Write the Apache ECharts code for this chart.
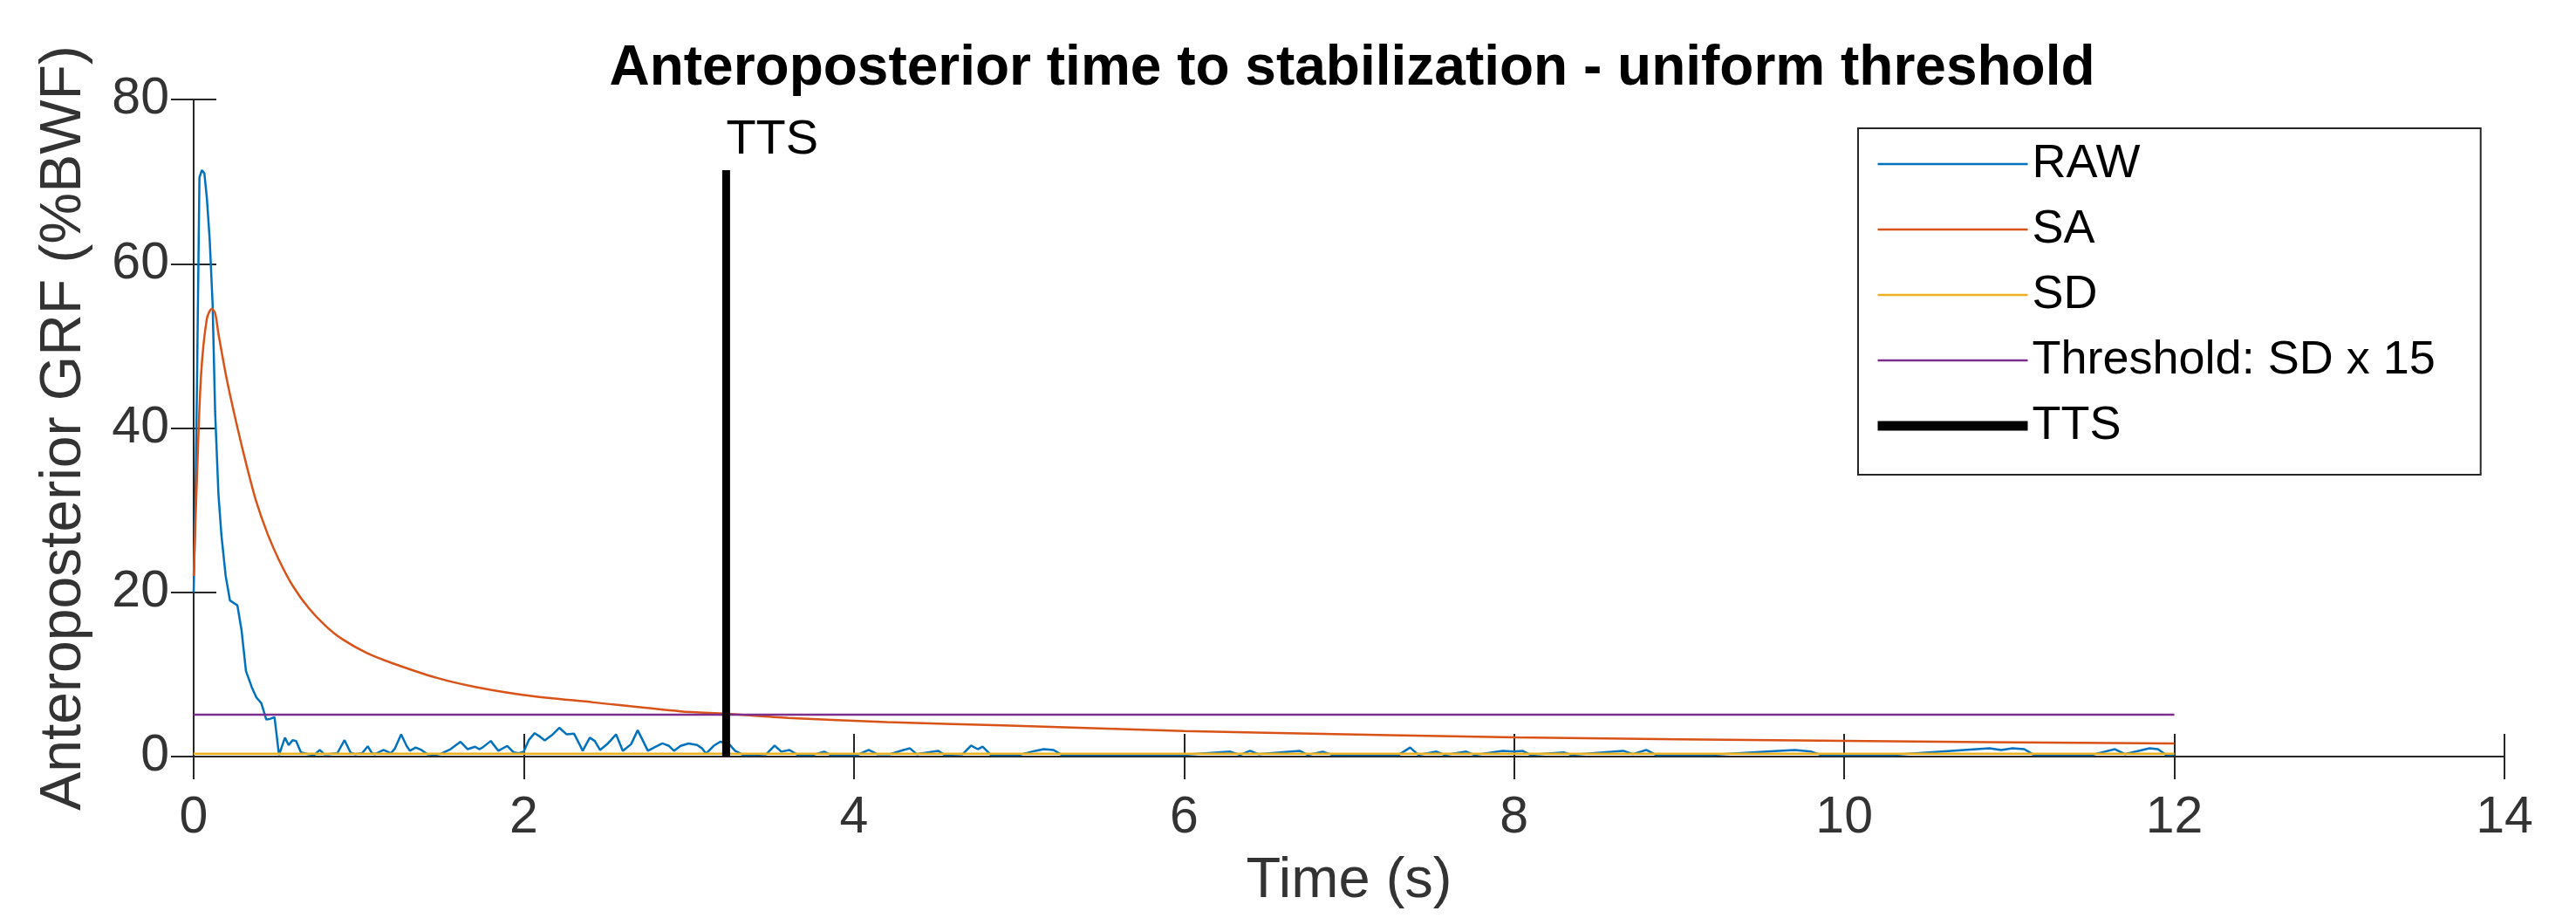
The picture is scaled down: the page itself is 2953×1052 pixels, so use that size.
<!DOCTYPE html>
<html>
<head>
<meta charset="utf-8">
<script src="https://cdn.jsdelivr.net/npm/echarts@6/dist/echarts.min.js"></script>
<style>
  html, body { margin: 0; padding: 0; background: #fff; }
  #main { width: 2953px; height: 1052px; }
</style>
</head>
<body>
<div id="main"></div>
<script>
// values
var rawTime = [0, 0.01, 0.02, 0.035, 0.05, 0.065, 0.08, 0.097, 0.115, 0.13, 0.15, 0.168, 0.194, 0.22, 0.265, 0.29, 0.317, 0.353, 0.38, 0.41, 0.44, 0.465, 0.49, 0.517, 0.553, 0.575, 0.6, 0.62, 0.65, 0.694, 0.73, 0.764, 0.79, 0.817, 0.87, 0.914, 0.95, 0.976, 1.02, 1.055, 1.08, 1.1, 1.15, 1.195, 1.22, 1.257, 1.29, 1.31, 1.345, 1.38, 1.415, 1.46, 1.5, 1.556, 1.617, 1.66, 1.705, 1.73, 1.75, 1.8, 1.846, 1.9, 1.94, 1.97, 2.0, 2.03, 2.066, 2.1, 2.127, 2.17, 2.215, 2.26, 2.304, 2.33, 2.357, 2.4, 2.43, 2.462, 2.51, 2.559, 2.6, 2.65, 2.69, 2.72, 2.752, 2.8, 2.84, 2.88, 2.91, 2.95, 2.998, 3.05, 3.08, 3.104, 3.15, 3.19, 3.24, 3.28, 3.33, 3.4, 3.47, 3.52, 3.56, 3.61, 3.66, 3.75, 3.82, 3.86, 4.02, 4.09, 4.14, 4.22, 4.3, 4.34, 4.38, 4.51, 4.55, 4.66, 4.71, 4.75, 4.78, 4.83, 5.0, 5.1, 5.15, 5.21, 5.26, 5.6, 6.0, 6.28, 6.34, 6.4, 6.45, 6.7, 6.75, 6.84, 6.9, 7.3, 7.37, 7.42, 7.53, 7.58, 7.71, 7.76, 7.93, 8.0, 8.05, 8.1, 8.3, 8.35, 8.66, 8.72, 8.8, 8.86, 9.2, 9.6, 9.7, 9.8, 9.86, 10.3, 10.88, 10.95, 11.02, 11.09, 11.15, 11.5, 11.64, 11.7, 11.85, 11.9, 11.95, 12.0];
var rawValue = [20, 30, 45, 70.5, 71.4, 71, 68, 63, 55, 42, 32, 27, 22, 19, 18.4, 15.4, 10.4, 8.4, 7.2, 6.5, 4.5, 4.6, 4.8, 0.2, 2.3, 1.4, 2.0, 1.9, 0.5, 0.3, 0.2, 0.8, 0.3, 0.3, 0.4, 2.0, 0.5, 0.3, 0.4, 1.25, 0.4, 0.3, 0.8, 0.4, 1.0, 2.7, 1.3, 0.7, 1.1, 0.8, 0.3, 0.2, 0.35, 0.9, 1.8, 0.9, 1.2, 0.9, 1.1, 1.9, 0.7, 1.3, 0.5, 0.4, 0.6, 2.0, 2.85, 2.4, 1.96, 2.6, 3.5, 2.7, 2.8, 1.8, 0.7, 2.3, 1.9, 0.8, 1.6, 2.7, 0.7, 1.5, 3.2, 2.0, 0.7, 1.2, 1.6, 1.3, 0.7, 1.3, 1.6, 1.4, 1.0, 0.35, 1.3, 1.8, 1.6, 0.7, 0.2, 0.2, 0.3, 1.35, 0.6, 0.8, 0.2, 0.2, 0.6, 0.2, 0.2, 0.8, 0.3, 0.3, 0.8, 1.0, 0.3, 0.7, 0.2, 0.3, 1.35, 0.9, 1.2, 0.2, 0.2, 0.7, 0.9, 0.8, 0.2, 0.2, 0.2, 0.6, 0.2, 0.7, 0.3, 0.7, 0.2, 0.6, 0.2, 0.2, 1.1, 0.2, 0.6, 0.2, 0.6, 0.2, 0.7, 0.6, 0.7, 0.2, 0.5, 0.2, 0.7, 0.3, 0.8, 0.2, 0.2, 0.7, 0.8, 0.6, 0.2, 0.2, 1.0, 0.8, 1.0, 0.9, 0.2, 0.2, 0.9, 0.3, 1.0, 0.9, 0.2, 0.2];

var saTime = [0, 0.02, 0.045, 0.08, 0.11, 0.13, 0.15, 0.2, 0.26, 0.32, 0.38, 0.45, 0.52, 0.6, 0.7, 0.8, 0.9, 1.05, 1.2, 1.47, 1.7, 2.0, 2.42, 2.95, 3.23, 3.6, 4.2, 4.9, 6.0, 6.5, 8.0, 10.0, 12.0];
var saValue = [22, 34, 46.5, 53.3, 54.5, 54, 51.5, 46, 40.5, 35.5, 31, 27, 23.8, 20.8, 18, 15.9, 14.3, 12.6, 11.4, 9.6, 8.5, 7.5, 6.6, 5.5, 5.2, 4.7, 4.2, 3.8, 3.1, 2.9, 2.35, 1.9, 1.6];

var sdTime = [0, 12];
var sdValue = [0.34, 0.34];
var thrTime = [0, 12];
var thrValue = [5.1, 5.1];
var ttsTime = [3.226, 3.226];
var ttsValue = [0, 71.4];

var xTicks = [0, 2, 4, 6, 8, 10, 12, 14];
var yTicks = [0, 20, 40, 60, 80];

function pairs(t, v) {
    return t.map(function (x, i) { return [x, v[i]]; });
}

var axisColor = '#262626';
var font = 'Liberation Sans, Arial, Helvetica, sans-serif';

var chart = echarts.init(document.getElementById('main'));

option = {
    animation: false,
    backgroundColor: '#fff',
    title: {
        text: 'Anteroposterior time to stabilization - uniform threshold',
        left: 1545,
        textAlign: 'center',
        top: 42,
        textStyle: { fontFamily: font, fontSize: 64, fontWeight: 'bold', color: '#000' }
    },
    legend: {
        orient: 'vertical',
        left: 2130,
        top: 147,
        padding: [14, 52, 29, 17],
        itemWidth: 172,
        itemHeight: 40,
        itemGap: 21,
        borderColor: axisColor,
        borderWidth: 2,
        backgroundColor: '#fff',
        itemStyle: { opacity: 0 },
        lineStyle: { width: 2.5 },
        textStyle: { fontFamily: font, fontSize: 54, color: '#000' },
        data: [
            'RAW',
            'SA',
            'SD',
            'Threshold: SD x 15',
            { name: 'TTS', lineStyle: { width: 11 } }
        ]
    },
    grid: {
        left: 222,
        right: 82,
        top: 114,
        bottom: 185,
        containLabel: false
    },
    xAxis: [{
        type: 'value',
        min: 0,
        max: 14,
        interval: 2,
        name: 'Time (s)',
        nameLocation: 'middle',
        nameGap: 111,
        nameTextStyle: { fontFamily: font, fontSize: 65, color: '#333' },
        axisLine: { show: true, lineStyle: { color: axisColor, width: 2 } },
        axisTick: { show: true, inside: true, length: 26, lineStyle: { color: axisColor, width: 2 } },
        axisLabel: { margin: 41, fontFamily: font, fontSize: 59, color: '#333' },
        splitLine: { show: false }
    }, {
        type: 'value',
        position: 'top',
        min: 0,
        max: 14,
        interval: 2,
        axisLine: { show: true, lineStyle: { color: axisColor, width: 2 } },
        axisTick: { show: true, inside: true, length: 26, lineStyle: { color: axisColor, width: 2 } },
        axisLabel: { show: false },
        splitLine: { show: false }
    }],
    yAxis: [{
        type: 'value',
        min: 0,
        max: 80,
        interval: 20,
        name: 'Anteroposterior GRF (%BWF)',
        nameLocation: 'middle',
        nameGap: 115,
        nameTextStyle: { fontFamily: font, fontSize: 66, color: '#333' },
        axisLine: { show: true, lineStyle: { color: axisColor, width: 2 } },
        axisTick: { show: true, inside: true, length: 26, lineStyle: { color: axisColor, width: 2 } },
        axisLabel: { margin: 28, fontFamily: font, fontSize: 59, color: '#333' },
        splitLine: { show: false }
    }, {
        type: 'value',
        position: 'right',
        min: 0,
        max: 80,
        interval: 20,
        axisLine: { show: true, lineStyle: { color: axisColor, width: 2 } },
        axisTick: { show: true, inside: true, length: 26, lineStyle: { color: axisColor, width: 2 } },
        axisLabel: { show: false },
        splitLine: { show: false }
    }],
    series: [
        {
            name: 'RAW',
            type: 'line',
            symbol: 'none',
            color: '#0072BD',
            lineStyle: { width: 2.5 },
            data: pairs(rawTime, rawValue)
        },
        {
            name: 'SA',
            type: 'line',
            symbol: 'none',
            smooth: 0.3,
            color: '#D95319',
            lineStyle: { width: 2.5 },
            data: pairs(saTime, saValue)
        },
        {
            name: 'SD',
            type: 'line',
            symbol: 'none',
            color: '#EDB120',
            lineStyle: { width: 2.5 },
            data: pairs(sdTime, sdValue)
        },
        {
            name: 'Threshold: SD x 15',
            type: 'line',
            symbol: 'none',
            color: '#7E2F8E',
            lineStyle: { width: 2.5 },
            data: pairs(thrTime, thrValue)
        },
        {
            name: 'TTS',
            type: 'line',
            symbol: 'none',
            color: '#000',
            lineStyle: { width: 9 },
            endLabel: {
                show: true,
                formatter: 'TTS',
                distance: 0,
                offset: [0, -34],
                fontFamily: font,
                fontSize: 56,
                color: '#000'
            },
            data: pairs(ttsTime, ttsValue)
        }
    ]
};
chart.setOption(option);
</script>
</body>
</html>
